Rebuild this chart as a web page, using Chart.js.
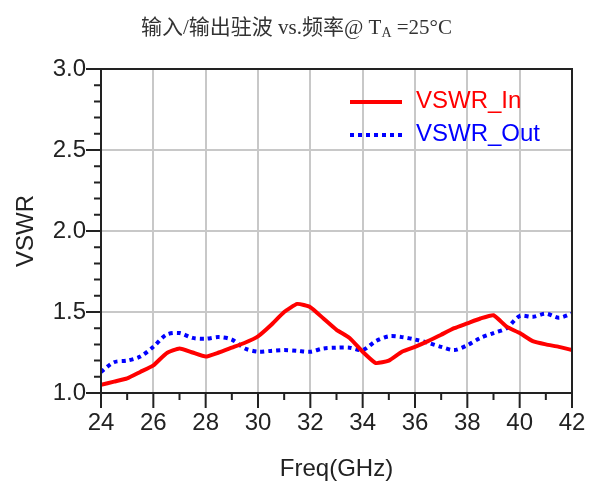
<!DOCTYPE html>
<html>
<head>
<meta charset="utf-8">
<script src="https://cdn.jsdelivr.net/npm/chart.js@4.4.1/dist/chart.umd.min.js"></script>
<style>
  body { margin: 0; background: #fff; }
  #wrap { position: relative; width: 593px; height: 484px; }
  #title {
    position: absolute; left: 0; top: 15px; width: 593px;
    text-align: center; font-family: "Liberation Serif", "Noto Sans CJK SC", serif;
    font-size: 21px; line-height: 24px; color: #333;
  }
  #title sub { font-size: 14px; vertical-align: -3px; }
</style>
</head>
<body>
<div id="wrap">
  <canvas id="myChart" width="593" height="484"></canvas>
  <div id="title">输入/输出驻波 vs.频率@ T<sub>A</sub> =25°C</div>
</div>
<script>
var freqs = [24, 24.5, 25, 25.5, 26, 26.5, 27, 27.5, 28, 28.5, 29, 29.5, 30, 30.5, 31, 31.5, 32, 32.5, 33,
             33.5, 34, 34.5, 35, 35.5, 36, 36.5, 37, 37.5, 38, 38.5, 39, 39.5, 40, 40.5, 41, 41.5, 42];
var vswrIn = [1.05, 1.07, 1.09, 1.13, 1.17, 1.245, 1.275, 1.25, 1.225, 1.25, 1.28, 1.31, 1.35, 1.42, 1.50, 1.55, 1.53, 1.46, 1.39,
              1.34, 1.255, 1.185, 1.20, 1.255, 1.285, 1.32, 1.36, 1.40, 1.43, 1.46, 1.48, 1.41, 1.37, 1.32, 1.30, 1.285, 1.265];
var vswrOut = [1.13, 1.19, 1.20, 1.225, 1.285, 1.36, 1.37, 1.34, 1.335, 1.345, 1.33, 1.275, 1.255, 1.26, 1.265, 1.26, 1.255, 1.275, 1.28,
               1.28, 1.265, 1.32, 1.35, 1.345, 1.33, 1.31, 1.285, 1.265, 1.295, 1.34, 1.37, 1.40, 1.475, 1.47, 1.49, 1.465, 1.49];
var xTicks = [24, 26, 28, 30, 32, 34, 36, 38, 40, 42];
var yTicks = ['1.0', '1.5', '2.0', '2.5', '3.0'];
var seriesNames = ['VSWR_In', 'VSWR_Out'];

function toPoints(ys) {
  return freqs.map(function (f, i) { return { x: f, y: ys[i] }; });
}

var font = "'Liberation Sans', Arial, sans-serif";
var textColor = '#222';

// box, minor/major ticks and the in-plot legend
var decor = {
  id: 'decor',
  afterDraw: function (chart) {
    var ctx = chart.ctx, a = chart.chartArea;
    var xs = chart.scales.x, ys = chart.scales.y;
    ctx.save();
    ctx.strokeStyle = '#222';
    ctx.lineWidth = 2;
    ctx.strokeRect(a.left, a.top, a.right - a.left, a.bottom - a.top);
    ctx.beginPath();
    for (var f = 24; f <= 42; f++) {
      var px = xs.getPixelForValue(f);
      var len = f % 2 === 0 ? 15 : 7;
      ctx.moveTo(px, a.bottom);
      ctx.lineTo(px, a.bottom + len);
    }
    for (var k = 10; k <= 30; k++) {
      var py = ys.getPixelForValue(k / 10);
      var l2 = k % 5 === 0 ? 15 : 7;
      ctx.moveTo(a.left, py);
      ctx.lineTo(a.left - l2, py);
    }
    ctx.stroke();

    // legend
    var lx = a.right - 222, tx = a.right - 156;
    chart.data.datasets.forEach(function (ds, i) {
      var ly = a.top + 33 + i * 33;
      ctx.beginPath();
      ctx.strokeStyle = ds.borderColor;
      ctx.lineWidth = 4;
      ctx.setLineDash(ds.borderDash || []);
      ctx.moveTo(lx, ly);
      ctx.lineTo(lx + 52, ly);
      ctx.stroke();
      ctx.setLineDash([]);
      ctx.fillStyle = ds.borderColor;
      ctx.font = '24px ' + font;
      ctx.textBaseline = 'middle';
      ctx.fillText(ds.label, tx, ly - 1);
    });
    ctx.restore();
  }
};

var ctx1 = document.getElementById('myChart').getContext('2d');
var myChart = new Chart(ctx1, {
  type: 'line',
  data: {
    datasets: [{
      label: seriesNames[0],
      data: toPoints(vswrIn),
      borderColor: '#ff0000',
      borderWidth: 4,
      pointRadius: 0,
      fill: false,
      tension: 0.15
    }, {
      label: seriesNames[1],
      data: toPoints(vswrOut),
      borderColor: '#0000ff',
      borderWidth: 4,
      borderDash: [4, 4],
      pointRadius: 0,
      fill: false,
      tension: 0.3
    }]
  },
  options: {
    responsive: false,
    animation: false,
    layout: { padding: { top: 69, right: 21, left: 0, bottom: 0 } },
    scales: {
      x: {
        type: 'linear',
        min: 24,
        max: 42,
        afterFit: function (s) { s.height = 91; s.paddingLeft = 0; s.paddingRight = 0; },
        afterBuildTicks: function (s) { s.ticks = xTicks.map(function (v) { return { value: v }; }); },
        ticks: {
          padding: 16,
          color: textColor,
          font: { size: 24, family: font },
          maxRotation: 0,
          callback: function (v) { return String(v); }
        },
        grid: { color: '#c8c8c8', lineWidth: 2, drawTicks: false },
        border: { display: false },
        title: {
          display: true,
          text: 'Freq(GHz)',
          color: textColor,
          font: { size: 24, family: font },
          padding: { top: 2, bottom: 0 }
        }
      },
      y: {
        min: 1,
        max: 3,
        afterFit: function (s) { s.width = 101; s.paddingTop = 0; s.paddingBottom = 0; },
        afterBuildTicks: function (s) { s.ticks = yTicks.map(function (v) { return { value: parseFloat(v) }; }); },
        ticks: {
          padding: 15,
          color: textColor,
          font: { size: 24, family: font },
          callback: function (v) { return Number(v).toFixed(1); }
        },
        grid: { color: '#c8c8c8', lineWidth: 2, drawTicks: false },
        border: { display: false },
        title: {
          display: true,
          text: 'VSWR',
          color: textColor,
          font: { size: 24, family: font },
          padding: { top: 12, bottom: 0 }
        }
      }
    },
    plugins: {
      legend: { display: false },
      tooltip: { enabled: false }
    }
  },
  plugins: [decor]
});
</script>
</body>
</html>
